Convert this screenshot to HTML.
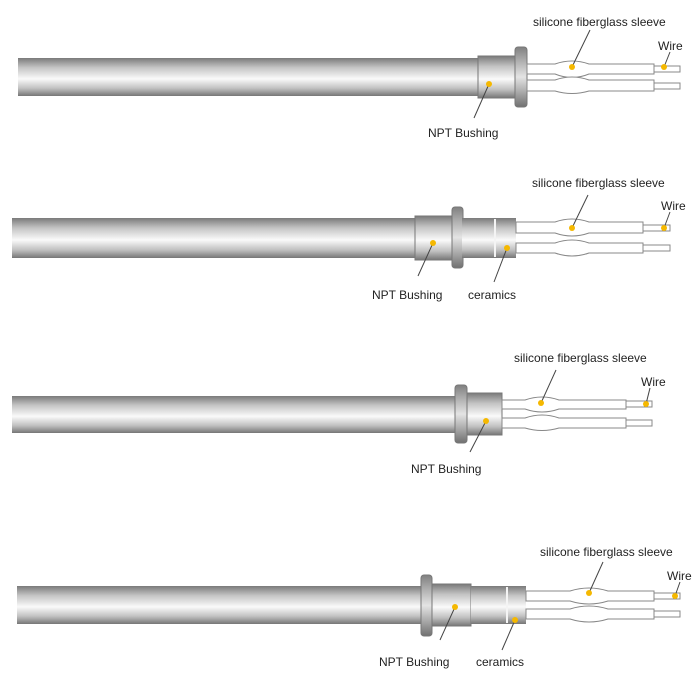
<!DOCTYPE html>
<html><head><meta charset="utf-8"><style>
html,body{margin:0;padding:0;background:#fff;width:700px;height:700px;overflow:hidden}
text{font-family:"Liberation Sans",sans-serif;font-size:12px;fill:#222}
</style></head><body>
<svg width="700" height="700" viewBox="0 0 700 700" xmlns="http://www.w3.org/2000/svg">
<defs>
<linearGradient id="g" x1="0" y1="0" x2="0" y2="1">
<stop offset="0" stop-color="#7a7a7a"/><stop offset="0.25" stop-color="#c4c4c4"/>
<stop offset="0.55" stop-color="#fafafa"/><stop offset="0.8" stop-color="#c0c0c0"/><stop offset="1" stop-color="#767676"/>
</linearGradient>
<linearGradient id="n" x1="0" y1="0" x2="0" y2="1">
<stop offset="0" stop-color="#808080"/><stop offset="0.5" stop-color="#e4e4e4"/><stop offset="1" stop-color="#707070"/>
</linearGradient>
</defs>
<g stroke="#888" stroke-width="1" fill="none">
<!-- ROW 1 -->
<rect x="18" y="58" width="460" height="38" fill="url(#g)" stroke="none"/>
<rect x="478" y="56" width="38" height="42" fill="url(#g)" stroke="#777"/>
<rect x="515" y="47" width="12" height="60" rx="3" fill="url(#n)" stroke="#777"/>
<path d="M527 64 H555 Q572 58 589 64 H654 V74 H589 Q572 81 555 74 H527 Z" fill="#fff"/>
<path d="M527 80 H555 Q572 74 589 80 H654 V91 H589 Q572 96 555 91 H527 Z" fill="#fff"/>
<rect x="654" y="66" width="26" height="6" fill="#fff"/>
<rect x="654" y="83" width="26" height="6" fill="#fff"/>
<!-- ROW 2 -->
<rect x="12" y="218" width="404" height="40" fill="url(#g)" stroke="none"/>
<rect x="415" y="216" width="38" height="44" fill="url(#g)" stroke="#777"/>
<rect x="452" y="207" width="11" height="61" rx="3" fill="url(#n)" stroke="#777"/>
<rect x="462" y="218" width="54" height="40" fill="url(#g)" stroke="none"/>
<line x1="495" y1="219" x2="495" y2="257" stroke="#f4f4f4" stroke-width="2"/>
<path d="M516 222 H555 Q572 216 589 222 H643 V233 H589 Q572 239 555 233 H516 Z" fill="#fff"/>
<path d="M516 243 H555 Q572 237 589 243 H643 V253 H589 Q572 259 555 253 H516 Z" fill="#fff"/>
<rect x="643" y="225" width="27" height="6" fill="#fff"/>
<rect x="643" y="245" width="27" height="6" fill="#fff"/>
<!-- ROW 3 -->
<rect x="12" y="396" width="444" height="37" fill="url(#g)" stroke="none"/>
<rect x="455" y="385" width="12" height="58" rx="3" fill="url(#n)" stroke="#777"/>
<rect x="467" y="393" width="35" height="42" fill="url(#g)" stroke="#777"/>
<path d="M502 400 H525 Q542 394 559 400 H626 V409 H559 Q542 415 525 409 H502 Z" fill="#fff"/>
<path d="M502 418 H525 Q542 412 559 418 H626 V428 H559 Q542 433 525 428 H502 Z" fill="#fff"/>
<rect x="626" y="401" width="26" height="6" fill="#fff"/>
<rect x="626" y="420" width="26" height="6" fill="#fff"/>
<!-- ROW 4 -->
<rect x="17" y="586" width="405" height="38" fill="url(#g)" stroke="none"/>
<rect x="421" y="575" width="11" height="61" rx="3" fill="url(#n)" stroke="#777"/>
<rect x="432" y="584" width="39" height="42" fill="url(#g)" stroke="#777"/>
<rect x="471" y="586" width="55" height="38" fill="url(#g)" stroke="none"/>
<line x1="507" y1="587" x2="507" y2="623" stroke="#f4f4f4" stroke-width="2"/>
<path d="M526 591 H570 Q589 585 608 591 H654 V601 H608 Q589 607 570 601 H526 Z" fill="#fff"/>
<path d="M526 609 H570 Q589 603 608 609 H654 V619 H608 Q589 625 570 619 H526 Z" fill="#fff"/>
<rect x="654" y="593" width="26" height="6" fill="#fff"/>
<rect x="654" y="611" width="26" height="6" fill="#fff"/>
</g>
<g stroke="#444" stroke-width="1">
<line x1="572" y1="67" x2="590" y2="30"/><line x1="489" y1="84" x2="474" y2="118"/><line x1="664" y1="67" x2="670" y2="52"/>
<line x1="572" y1="228" x2="588" y2="195"/><line x1="433" y1="243" x2="418" y2="276"/><line x1="507" y1="248" x2="494" y2="282"/><line x1="664" y1="228" x2="670" y2="212"/>
<line x1="541" y1="403" x2="556" y2="370"/><line x1="486" y1="421" x2="470" y2="452"/><line x1="646" y1="404" x2="650" y2="388"/>
<line x1="589" y1="593" x2="603" y2="562"/><line x1="455" y1="607" x2="440" y2="640"/><line x1="515" y1="620" x2="502" y2="650"/><line x1="675" y1="596" x2="680" y2="582"/>
</g>
<g fill="#f5b800">
<circle cx="572" cy="67" r="3"/><circle cx="489" cy="84" r="3"/><circle cx="664" cy="67" r="3"/>
<circle cx="572" cy="228" r="3"/><circle cx="433" cy="243" r="3"/><circle cx="507" cy="248" r="3"/><circle cx="664" cy="228" r="3"/>
<circle cx="541" cy="403" r="3"/><circle cx="486" cy="421" r="3"/><circle cx="646" cy="404" r="3"/>
<circle cx="589" cy="593" r="3"/><circle cx="455" cy="607" r="3"/><circle cx="515" cy="620" r="3"/><circle cx="675" cy="596" r="3"/>
</g>
<text x="533" y="26">silicone fiberglass sleeve</text>
<text x="658" y="50">Wire</text>
<text x="428" y="137">NPT Bushing</text>
<text x="532" y="187">silicone fiberglass sleeve</text>
<text x="661" y="210">Wire</text>
<text x="372" y="299">NPT Bushing</text>
<text x="468" y="299">ceramics</text>
<text x="514" y="362">silicone fiberglass sleeve</text>
<text x="641" y="386">Wire</text>
<text x="411" y="473">NPT Bushing</text>
<text x="540" y="556">silicone fiberglass sleeve</text>
<text x="667" y="580">Wire</text>
<text x="379" y="666">NPT Bushing</text>
<text x="476" y="666">ceramics</text>
</svg>
</body></html>
